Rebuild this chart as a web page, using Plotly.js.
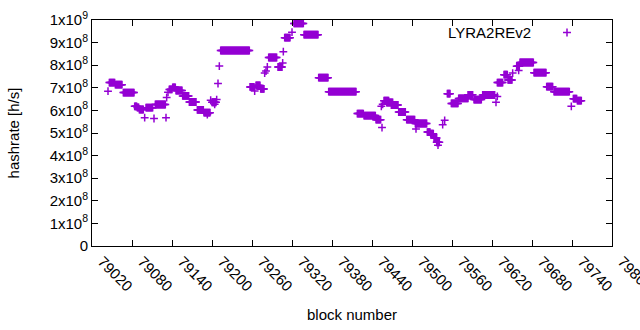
<!DOCTYPE html>
<html>
<head>
<meta charset="utf-8">
<script src="https://cdn.plot.ly/plotly-3.0.1.min.js"></script>
<style>html,body{margin:0;padding:0;background:#fff}</style>
</head>
<body>
<div id="chart" style="width:640px;height:330px"></div>
<script>
// Runs of consecutive blocks sharing one hashrate reading (value in units of 1e8 h/s)
const runStart = [79044,79046,79055,79067,79084,79088,79091,79099,79101,79113,79115,79131,79132,79134,79136,79141,79146,79156,79166,79178,79188,79193,79198,79200,79204,79207,79209,79211,79213,79257,79264,79266,79273,79279,79281,79283,79285,79299,79306,79307,79309,79320,79323,79338,79360,79375,79418,79428,79446,79454,79455,79456,79458,79462,79469,79480,79492,79505,79506,79523,79528,79533,79537,79539,79546,79549,79553,79559,79570,79584,79593,79606,79626,79628,79628,79638,79644,79651,79657,79660,79662,79683,79702,79713,79739,79742,79748];
const runEnd   = [79044,79054,79065,79083,79087,79090,79097,79099,79111,79113,79130,79131,79132,79134,79140,79145,79155,79165,79176,79187,79197,79193,79198,79206,79204,79207,79209,79211,79256,79263,79264,79272,79278,79279,79281,79283,79297,79305,79306,79307,79317,79320,79337,79359,79374,79416,79427,79445,79453,79454,79455,79456,79465,79471,79479,79490,79504,79522,79506,79527,79532,79537,79541,79539,79546,79549,79557,79569,79584,79591,79604,79624,79626,79628,79636,79643,79650,79651,79661,79660,79682,79701,79711,79736,79739,79747,79754];
const runValue = [6.85,7.23,7.14,6.79,6.18,6.13,6.04,5.68,6.12,5.64,6.26,5.68,6.57,6.80,6.93,7.02,6.88,6.64,6.37,6.02,5.90,5.82,6.45,6.36,6.27,6.48,7.19,7.96,8.65,7.04,6.86,7.10,6.95,7.65,7.74,7.92,8.34,7.92,8.10,8.60,9.22,9.46,9.85,9.35,7.45,6.83,5.86,5.77,5.59,6.18,5.24,6.27,6.43,6.35,6.24,5.93,5.59,5.42,5.18,5.04,4.97,4.78,4.59,4.46,5.37,5.56,6.74,6.31,6.53,6.69,6.48,6.68,6.36,6.62,7.23,7.58,7.35,7.65,7.95,7.77,8.12,7.67,7.05,6.83,6.18,6.52,6.43];

const seriesName = "LYRA2REv2";
const xTicks = [79020,79080,79140,79200,79260,79320,79380,79440,79500,79560,79620,79680,79740,79800];
const yTicks = [0,1e8,2e8,3e8,4e8,5e8,6e8,7e8,8e8,9e8,1e9];
const yTickText = ["0","1x10<sup>8</sup>","2x10<sup>8</sup>","3x10<sup>8</sup>","4x10<sup>8</sup>","5x10<sup>8</sup>","6x10<sup>8</sup>","7x10<sup>8</sup>","8x10<sup>8</sup>","9x10<sup>8</sup>","1x10<sup>9</sup>"];

const xs = [], ys = [];
for (let i = 0; i < runStart.length; i++) {
  for (let b = runStart[i]; b <= runEnd[i]; b++) {
    xs.push(b);
    ys.push(runValue[i] * 1e8);
  }
}

const color = "#9400d3";
const font = {family: "Liberation Sans, Arial, sans-serif", size: 15, color: "#000"};
const W = 640, H = 330, L = 92, R = 28, T = 20, B = 84;
const pw = W - L - R, ph = H - T - B;
function px(x){return (x - L)/pw;}
function py(y){return (H - B - y)/ph;}
const kx = 567, ky = 32.5, ka = 4;

const trace = {
  x: xs, y: ys, type: "scatter", mode: "markers", name: seriesName,
  marker: {symbol: "cross-thin", size: 5.6, color: color, line: {color: color, width: 1.5}},
  showlegend: false, hoverinfo: "skip"
};

const axisCommon = {
  showline: true, linecolor: "#000", linewidth: 1, mirror: "allticks",
  ticks: "inside", ticklen: 6, tickcolor: "#000", tickwidth: 1,
  showgrid: false, zeroline: false, tickfont: font
};

const layout = {
  width: W, height: H,
  margin: {l: L, r: R, t: T, b: B, pad: 0},
  paper_bgcolor: "#fff", plot_bgcolor: "#fff",
  font: font,
  xaxis: Object.assign({}, axisCommon, {
    range: [79020, 79800], tickmode: "array", tickvals: xTicks, ticktext: xTicks.map(String),
    tickangle: 45, ticklabelshift: 10, ticklabelstandoff: 0, ticklabeloverflow: "allow",
    title: {text: "block number", font: font, standoff: 16}
  }),
  yaxis: Object.assign({}, axisCommon, {
    range: [0, 1e9], tickmode: "array", tickvals: yTicks, ticktext: yTickText,
    title: {text: "hashrate [h/s]", font: font, standoff: 26}
  }),
  annotations: [
    {xref: "paper", yref: "paper", x: px(533), y: py(ky), text: seriesName, showarrow: false,
     xanchor: "right", yanchor: "middle", font: font}
  ],
  shapes: [
    {type: "line", xref: "paper", yref: "paper", x0: px(kx - ka), x1: px(kx + ka), y0: py(ky), y1: py(ky), line: {color: color, width: 1.5}},
    {type: "line", xref: "paper", yref: "paper", x0: px(kx), x1: px(kx), y0: py(ky - ka), y1: py(ky + ka), line: {color: color, width: 1.5}}
  ],
  showlegend: false
};

Plotly.newPlot("chart", [trace], layout, {staticPlot: true, displayModeBar: false});
</script>
</body>
</html>
